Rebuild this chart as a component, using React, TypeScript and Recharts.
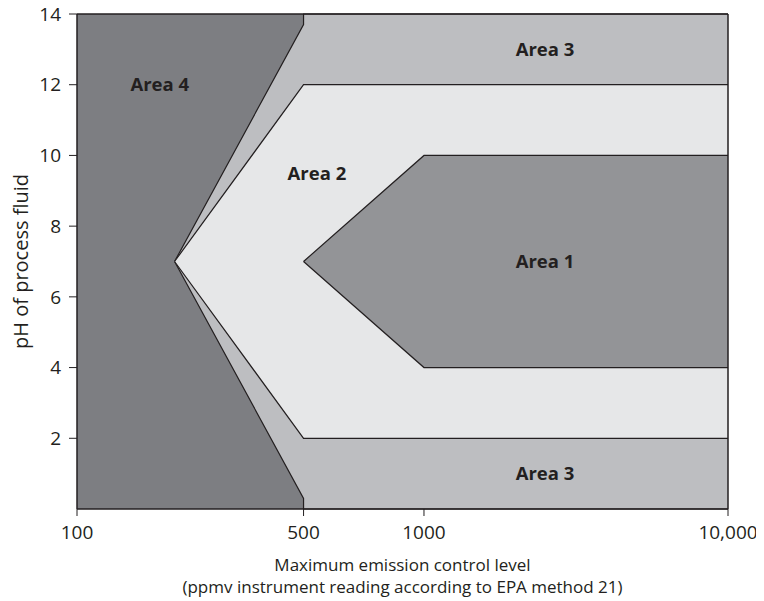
import {
  Area,
  CartesianGrid,
  ComposedChart,
  ReferenceDot,
  ReferenceLine,
  XAxis,
  YAxis,
} from "recharts";

const FONT = "'Open Sans', sans-serif";
const INK = "#231f20";
const AREA1 = "#939497";
const AREA2 = "#e6e7e8";
const AREA3 = "#bdbec1";
const AREA4 = "#7d7e82";

// x axis ticks (ppmv) and labels
const xTicks = [100, 500, 1000, 10000];
const xTickLabels = ["100", "500", "1000", "10,000"];
const yTicks = [2, 4, 6, 8, 10, 12, 14];

// region boundaries: ppmv, lower pH, upper pH
const area3Ppmv = [200, 500, 500, 10000];
const area3Low = [7, 0.3, 0, 0];
const area3High = [7, 13.7, 14, 14];

const area2Ppmv = [200, 500, 10000];
const area2Low = [7, 2, 2];
const area2High = [7, 12, 12];

const area1Ppmv = [500, 1000, 10000];
const area1Low = [7, 4, 4];
const area1High = [7, 10, 10];

const labelNames = ["Area 4", "Area 3", "Area 2", "Area 1", "Area 3"];
const labelPpmv = [180, 2500, 540, 2500, 2500];
const labelPh = [12, 13, 9.5, 7, 1];

// the printed axis is not a true log axis: each tick gap gets its own share of the width
const tickShare = [0, 0.348, 0.533, 1];
function xPos(v: number) {
  let i = 0;
  while (i < xTicks.length - 2 && v > xTicks[i + 1]) i++;
  const t = Math.log(v / xTicks[i]) / Math.log(xTicks[i + 1] / xTicks[i]);
  return tickShare[i] + t * (tickShare[i + 1] - tickShare[i]);
}

function build(ppmv: number[], low: number[], high: number[]) {
  return ppmv.map((v, i) => ({ x: xPos(v), r: [low[i], high[i]] }));
}

const area3Data = build(area3Ppmv, area3Low, area3High);
const area2Data = build(area2Ppmv, area2Low, area2High);
const area1Data = build(area1Ppmv, area1Low, area1High);

export default function App() {
  const tick = { fill: INK, fontSize: 19, fontFamily: FONT };
  return (
    <div style={{ margin: "-8px 0 0 -8px" }}>
      <ComposedChart
        width={764}
        height={601}
        margin={{ top: 14, right: 36, bottom: 0, left: 0 }}
      >
        <CartesianGrid
          fill={AREA4}
          fillOpacity={1}
          horizontal={false}
          vertical={false}
        />
        <XAxis
          dataKey="x"
          type="number"
          domain={[0, 1]}
          ticks={xTicks.map(xPos)}
          interval={0}
          tickFormatter={(_v: number, i: number) => xTickLabels[i]}
          tick={tick}
          tickSize={7}
          tickMargin={10}
          height={92}
          axisLine={{ stroke: INK, strokeWidth: 1.5 }}
          tickLine={{ stroke: INK }}
          label={{
            content: (props: any) => {
              const vb = props.viewBox;
              const cx = vb.x + vb.width / 2;
              return (
                <g fill={INK} fontSize={17} fontFamily={FONT}>
                  <text x={cx} y={vb.y + 62} textAnchor="middle">
                    Maximum emission control level
                  </text>
                  <text x={cx} y={vb.y + 84} textAnchor="middle">
                    (ppmv instrument reading according to EPA method 21)
                  </text>
                </g>
              );
            },
          }}
        />
        <YAxis
          type="number"
          domain={[0, 14]}
          ticks={yTicks}
          interval={0}
          width={77}
          tick={tick}
          tickSize={8}
          tickMargin={8}
          axisLine={{ stroke: INK, strokeWidth: 1.5 }}
          tickLine={{ stroke: INK }}
          label={{
            content: (props: any) => {
              const vb = props.viewBox;
              return (
                <text
                  transform={`translate(20.5, ${vb.y + vb.height / 2}) rotate(-90)`}
                  fill={INK}
                  fontSize={20}
                  fontFamily={FONT}
                  textAnchor="middle"
                  dominantBaseline="central"
                >
                  pH of process fluid
                </text>
              );
            },
          }}
        />
        <Area
          data={area3Data}
          dataKey="r"
          type="linear"
          fill={AREA3}
          fillOpacity={1}
          stroke={INK}
          strokeWidth={1.2}
          dot={false}
          activeDot={false}
          isAnimationActive={false}
        />
        <Area
          data={area2Data}
          dataKey="r"
          type="linear"
          fill={AREA2}
          fillOpacity={1}
          stroke={INK}
          strokeWidth={1.2}
          dot={false}
          activeDot={false}
          isAnimationActive={false}
        />
        <Area
          data={area1Data}
          dataKey="r"
          type="linear"
          fill={AREA1}
          fillOpacity={1}
          stroke={INK}
          strokeWidth={1.2}
          dot={false}
          activeDot={false}
          isAnimationActive={false}
        />
        <ReferenceLine y={14} stroke={INK} strokeWidth={1.5} />
        <ReferenceLine x={1} stroke={INK} strokeWidth={1.5} />
        {labelNames.map((name, i) => (
          <ReferenceDot
            key={i}
            x={xPos(labelPpmv[i])}
            y={labelPh[i]}
            r={0}
            fill="none"
            stroke="none"
            label={{
              value: name,
              position: "center",
              fill: INK,
              fontSize: 18.5,
              fontWeight: 700,
              fontFamily: FONT,
            }}
          />
        ))}
      </ComposedChart>
    </div>
  );
}
